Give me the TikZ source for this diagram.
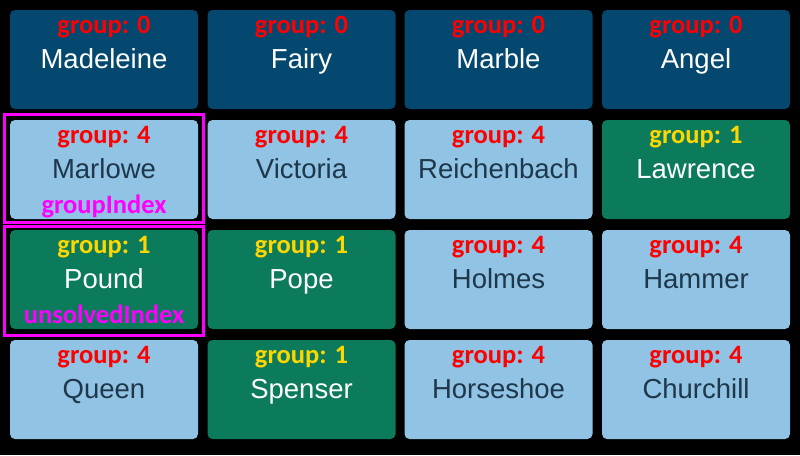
\documentclass[tikz,border=0pt]{standalone}
\usepackage{fontspec}
\setmainfont{Liberation Sans}
\newfontfamily\grpfont{Carlito}
\usetikzlibrary{positioning}

\definecolor{tiledark}{RGB}{4,72,112}
\definecolor{tilelight}{RGB}{145,195,228}
\definecolor{tilegreen}{RGB}{11,123,92}
\definecolor{namedark}{RGB}{30,55,75}
\definecolor{grpred}{RGB}{255,0,0}
\definecolor{grpyellow}{RGB}{255,215,0}
\definecolor{idxpink}{RGB}{255,0,255}

\begin{document}
\begin{tikzpicture}[x=1pt, y=-1pt,
  tile/.style={rectangle, rounded corners=5pt, minimum width=188pt, minimum height=99pt, inner sep=0pt, text height=19pt, text depth=2pt, font=\fontsize{27.5}{30}\selectfont},
  dark/.style={tile, fill=tiledark, text=white},
  light/.style={tile, fill=tilelight, text=namedark},
  green/.style={tile, fill=tilegreen, text=white},
  grp/.style={anchor=base, yshift=-24pt, inner sep=0pt, font=\grpfont\bfseries\fontsize{26.5}{28}\selectfont},
  red/.style={grp, text=grpred},
  yellow/.style={grp, text=grpyellow},
  idx/.style={anchor=base, yshift=6pt, inner sep=0pt, text=idxpink, font=\grpfont\bfseries\fontsize{26.5}{28}\selectfont},
  idxbox/.style={draw=idxpink, line width=3pt}]
  \fill (0,0) rectangle (800,455);

  % row 1
  \node[dark, label={[red]north:group: 0}] (madeleine) at (104,59.5) {Madeleine};
  \node[dark, label={[red]north:group: 0}] (fairy) at (301.5,59.5) {Fairy};
  \node[dark, label={[red]north:group: 0}] (marble) at (498.5,59.5) {Marble};
  \node[dark, label={[red]north:group: 0}] (angel) at (696,59.5) {Angel};
  % row 2
  \node[light, label={[red]north:group: 4}, label={[idx]south:groupIndex}] (marlowe) at (104,169.5) {Marlowe};
  \node[light, label={[red]north:group: 4}] (victoria) at (301.5,169.5) {Victoria};
  \node[light, label={[red]north:group: 4}] (reichenbach) at (498.5,169.5) {Reichenbach};
  \node[green, label={[yellow]north:group: 1}] (lawrence) at (696,169.5) {Lawrence};
  % row 3
  \node[green, label={[yellow]north:group: 1}, label={[idx]south:unsolvedIndex}] (pound) at (104,279.5) {Pound};
  \node[green, label={[yellow]north:group: 1}] (pope) at (301.5,279.5) {Pope};
  \node[light, label={[red]north:group: 4}] (holmes) at (498.5,279.5) {Holmes};
  \node[light, label={[red]north:group: 4}] (hammer) at (696,279.5) {Hammer};
  % row 4
  \node[light, label={[red]north:group: 4}] (queen) at (104,389.5) {Queen};
  \node[green, label={[yellow]north:group: 1}] (spenser) at (301.5,389.5) {Spenser};
  \node[light, label={[red]north:group: 4}] (horseshoe) at (498.5,389.5) {Horseshoe};
  \node[light, label={[red]north:group: 4}] (churchill) at (696,389.5) {Churchill};

  % index markers
  \draw[idxbox] ([shift={(-5pt,5pt)}]marlowe.north west) rectangle ([shift={(5pt,-3.5pt)}]marlowe.south east);
  \draw[idxbox] ([shift={(-5pt,3.5pt)}]pound.north west) rectangle ([shift={(5pt,-6.5pt)}]pound.south east);
\end{tikzpicture}
\end{document}
